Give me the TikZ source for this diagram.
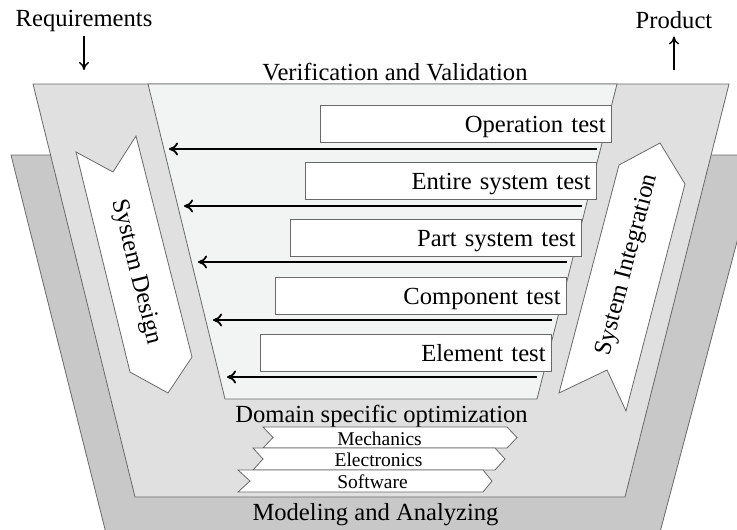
\documentclass[tikz,border=0pt]{standalone}
\usepackage{fontspec}
\setmainfont{Liberation Serif}
\usetikzlibrary{arrows.meta}

\definecolor{OuterGray}{RGB}{200,200,200}
\definecolor{MidGray}{RGB}{224,224,224}
\definecolor{InnerGray}{RGB}{242,244,244}
\definecolor{LineGray}{RGB}{105,105,105}

\begin{document}
\begin{tikzpicture}[x=1pt,y=-1pt, every node/.style={inner sep=0pt, font=\fontsize{24.6}{28}\selectfont}]
    \tikzset{PlateStyle/.style={draw=LineGray, line width=0.8pt},
      TestStyle/.style={draw=LineGray, fill=white, line width=0.8pt, anchor=north east,
        text width=279pt, align=right, minimum height=37pt, inner xsep=6pt, inner ysep=0pt,
        text height=16.5pt, text depth=0pt},
      SmallStyle/.style={anchor=base, font=\fontsize{19.5}{22}\selectfont},
      FlowStyle/.style={line width=1.8pt, -{Computer Modern Rightarrow[length=9pt,width=13pt]}},
      ThinFlow/.style={line width=1.4pt, -{Computer Modern Rightarrow[length=8pt,width=10pt]}}}
    \useasboundingbox (0,0) rectangle (737,530);
    \clip (0,0) rectangle (737,530);

    \draw[PlateStyle, fill=OuterGray] (11,155) -- (760,155) -- (646,585) -- (119,585) -- cycle;
    \draw[PlateStyle, fill=MidGray] (33,84) -- (729,84) -- (625,497) -- (135,497) -- cycle;
    \draw[PlateStyle, fill=InnerGray] (148,84) -- (617,84) -- (537,399) -- (225,399) -- cycle;

    \draw[PlateStyle, fill=white] (76,152) -- (113,172) -- (136,136) -- (192,357) -- (168,393) -- (130,372) -- cycle;
    \draw[PlateStyle, fill=white] (660,143) -- (685,184) -- (626,411) -- (607,370) -- (559,393) -- (619,165) -- cycle;
    \node[rotate=-76] (SD) at (136,272) {System Design};
    \node[rotate=75.3] (SI) at (628,265) {System Integration};

    \node[anchor=base] (Req) at (84,27) {Requirements};
    \node[anchor=base] (Prod) at (674,28) {Product};
    \coordinate (ReqEnd) at (84,70);
    \coordinate (ProdStart) at (674,70);
    \draw[ThinFlow, shorten <=3.5pt] (Req.south) -- (ReqEnd);
    \draw[ThinFlow, shorten >=8pt] (ProdStart) -- (Prod.south);

    \node[anchor=base] (VV) at (395,80) {Verification and Validation};
    \node[anchor=base] (DSO) at (381.5,422) {Domain specific optimization};
    \node[anchor=base] (MA) at (375.5,520) {Modeling and Analyzing};

    \node[TestStyle] (T1) at (612,105) {Operation test};
    \node[TestStyle] (T2) at (597,162) {Entire system test};
    \node[TestStyle] (T3) at (582,219) {Part system test};
    \node[TestStyle] (T4) at (567,277) {Component test};
    \node[TestStyle] (T5) at (552,334) {Element test};

    \coordinate (R1) at (597,149);
    \coordinate (L1) at (169,149);
    \coordinate (R2) at (582,206);
    \coordinate (L2) at (184,206);
    \coordinate (R3) at (567,262);
    \coordinate (L3) at (198,262);
    \coordinate (R4) at (552,320);
    \coordinate (L4) at (213,320);
    \coordinate (R5) at (537,377);
    \coordinate (L5) at (227,377);
    \draw[FlowStyle] (R1) -- (L1);
    \draw[FlowStyle] (R2) -- (L2);
    \draw[FlowStyle] (R3) -- (L3);
    \draw[FlowStyle] (R4) -- (L4);
    \draw[FlowStyle] (R5) -- (L5);

    \draw[PlateStyle, fill=white] (263,427) -- (507,427) -- (517,437.5) -- (507,448) -- (263,448) -- (273,437.5) -- cycle;
    \draw[PlateStyle, fill=white] (253,448) -- (495,448) -- (505,459) -- (495,470) -- (253,470) -- (263,459) -- cycle;
    \draw[PlateStyle, fill=white] (238,470) -- (483,470) -- (492,481) -- (483,492) -- (238,492) -- (250,481) -- cycle;
    \node[SmallStyle] (D1) at (379.5,445) {Mechanics};
    \node[SmallStyle] (D2) at (378.5,466.5) {Electronics};
    \node[SmallStyle] (D3) at (372.5,488) {Software};
\end{tikzpicture}
\end{document}
